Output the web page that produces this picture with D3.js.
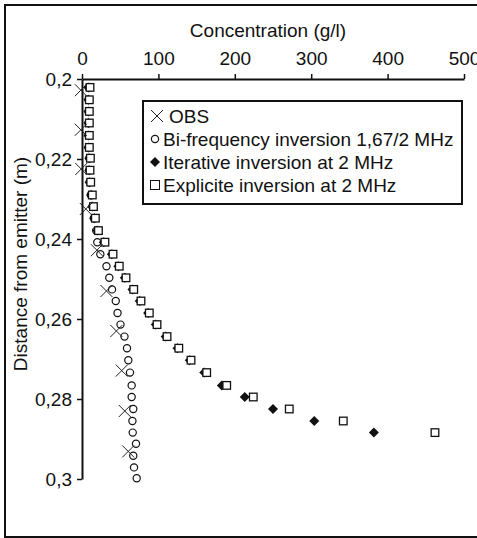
<!DOCTYPE html>
<html>
<head>
<meta charset="utf-8">
<script src="https://cdn.jsdelivr.net/npm/d3@7"></script>
<style>
	body { margin: 0; background: #fff; }
	svg { display: block; font-family: Arial, 'Liberation Sans', sans-serif; }
</style>
</head>
<body>
<div id="canvas"></div>
<script>
// Depth of each inversion cell (m)
var depths = [0.2021, 0.2052, 0.2081, 0.2110, 0.2141, 0.2171, 0.2198, 0.2228, 0.2258, 0.2290,
	0.2319, 0.2348, 0.2379, 0.2408, 0.2438, 0.2468, 0.2497, 0.2526, 0.2555, 0.2585,
	0.2614, 0.2644, 0.2673, 0.2703, 0.2734, 0.2766, 0.2795, 0.2825, 0.2855, 0.2884,
	0.2912, 0.2942, 0.2971, 0.2998];

// Bi-frequency inversion 1,67/2 MHz (g/l)
var biFrequency = [8.5, 8.5, 8.5, 8.5, 8.5, 8.5, 9.5, 9.5, 10, 11.5,
	13.5, 15.5, 18.5, 20, 24, 32, 35.7, 39.3, 44.2, 46.5,
	50.4, 55.6, 58.9, 60.6, 62.8, 65, 65, 67.1, 66, 66.4,
	70.7, 67.1, 68.1, 71.6];

// Iterative inversion at 2 MHz (g/l)
var iterative = [9, 8.5, 8.5, 8.5, 8.5, 8.5, 9.5, 9.5, 10, 12,
	13.5, 16, 20, 28.5, 39, 47.5, 56, 66, 75.5, 86.5,
	96.5, 109.5, 125, 141, 160, 183, 213, 250, 304, 382];

// Explicite inversion at 2 MHz (g/l)
var explicite = [10.5, 9.6, 9.6, 9.6, 9.6, 9.6, 11, 10.5, 11.4, 13.5,
	15, 17.5, 21.5, 30, 40.6, 48.8, 57.6, 67.7, 77.2, 88.1,
	98.2, 111.3, 126.7, 142.7, 163.2, 189.4, 224.2, 271.3, 342, 462];

// OBS measurements
var obsDepths = [0.2028, 0.2127, 0.2225, 0.2325, 0.2428, 0.2530, 0.2630, 0.2729, 0.2830, 0.2931];
var obsValues = [-1.5, -1.5, -1, 5, 19.5, 32, 45, 52, 56, 60.5];

var xTicks = [0, 100, 200, 300, 400, 500];
var yTicks = [0.2, 0.22, 0.24, 0.26, 0.28, 0.3];
var legendLabels = ['OBS', 'Bi-frequency inversion 1,67/2 MHz', 'Iterative inversion at 2 MHz', 'Explicite inversion at 2 MHz'];

var width = 477, height = 538,
	ink = '#111',
	fontSize = '19px';

var svg = d3.select('#canvas').append('svg')
	.attr('width', width)
	.attr('height', height);

var x = d3.scaleLinear().domain([0, 500]).range([82, 464]),
	y = d3.scaleLinear().domain([0.2, 0.3]).range([79, 479]);

// Outer frame
svg.append('rect')
	.attr('x', 5).attr('y', 5)
	.attr('width', 480).attr('height', 532)
	.attr('fill', 'none')
	.attr('stroke', ink)
	.attr('stroke-width', 2);

// Marker shapes
function cross(g, cx, cy, s) {
	g.append('path')
		.attr('d', 'M' + (cx - s) + ',' + (cy - s) + 'L' + (cx + s) + ',' + (cy + s) +
			'M' + (cx - s) + ',' + (cy + s) + 'L' + (cx + s) + ',' + (cy - s))
		.attr('stroke', '#222')
		.attr('stroke-width', 1)
		.attr('fill', 'none');
}
function circle(g, cx, cy) {
	g.append('circle')
		.attr('cx', cx).attr('cy', cy).attr('r', 3.6)
		.attr('fill', '#fff')
		.attr('stroke', ink)
		.attr('stroke-width', 1.2);
}
function diamond(g, cx, cy) {
	g.append('path')
		.attr('d', 'M' + cx + ',' + (cy - 5) + 'L' + (cx + 5) + ',' + cy + 'L' + cx + ',' + (cy + 5) + 'L' + (cx - 5) + ',' + cy + 'Z')
		.attr('fill', ink);
}
function square(g, cx, cy) {
	g.append('rect')
		.attr('x', cx - 3.8).attr('y', cy - 3.8)
		.attr('width', 7.6).attr('height', 7.6)
		.attr('fill', '#fff')
		.attr('stroke', ink)
		.attr('stroke-width', 1.3);
}

// Axes
var xAxis = svg.append('g')
	.attr('transform', 'translate(0,' + y(0.2) + ')')
	.call(d3.axisTop(x).tickValues(xTicks).tickSizeInner(5).tickSizeOuter(0).tickPadding(9));
var yAxis = svg.append('g')
	.attr('transform', 'translate(' + x(0) + ',0)')
	.call(d3.axisLeft(y).tickValues(yTicks).tickSizeInner(5).tickSizeOuter(0).tickPadding(5)
		.tickFormat(function(d) { return d3.format('.2~f')(d).replace('.', ','); }));
[xAxis, yAxis].forEach(function(a) {
	a.select('.domain').attr('stroke', ink).attr('stroke-width', 2);
	a.selectAll('.tick line').attr('stroke', ink).attr('stroke-width', 1.5);
	a.selectAll('.tick text').attr('fill', ink).style('font-size', fontSize).style('font-family', 'Arial, Liberation Sans, sans-serif');
});

// Axis titles
svg.append('text')
	.attr('x', 268).attr('y', 37)
	.attr('text-anchor', 'middle')
	.style('font-size', fontSize)
	.attr('fill', ink)
	.text('Concentration (g/l)');
svg.append('text')
	.attr('transform', 'translate(27,264) rotate(-90)')
	.attr('text-anchor', 'middle')
	.style('font-size', fontSize)
	.attr('fill', ink)
	.text('Distance from emitter (m)');

// Data
var gMarks = svg.append('g');
biFrequency.forEach(function(v, i) { circle(gMarks, x(v), y(depths[i])); });
iterative.forEach(function(v, i) { diamond(gMarks, x(v), y(depths[i])); });
explicite.forEach(function(v, i) { square(gMarks, x(v), y(depths[i])); });
obsValues.forEach(function(v, i) { cross(gMarks, x(v), y(obsDepths[i]), 6); });

// Legend
var gLegend = svg.append('g');
gLegend.append('rect')
	.attr('x', 143).attr('y', 101)
	.attr('width', 319).attr('height', 103)
	.attr('fill', '#fff')
	.attr('stroke', ink)
	.attr('stroke-width', 2);
var markers = [
	function(g, cx, cy) { cross(g, cx, cy, 6); },
	circle, diamond,
	function(g, cx, cy) { g.append('rect').attr('x', cx - 4.5).attr('y', cy - 4.5).attr('width', 9).attr('height', 9)
		.attr('fill', '#fff').attr('stroke', ink).attr('stroke-width', 1); }
];
legendLabels.forEach(function(label, i) {
	var cy = 116 + i * 23;
	markers[i](gLegend, i == 0 ? 157 : 155, cy);
	gLegend.append('text')
		.attr('x', i == 0 ? 169 : 163).attr('y', cy)
		.attr('dy', '0.35em')
		.style('font-size', fontSize)
		.attr('fill', ink)
		.text(label);
});
</script>
</body>
</html>
